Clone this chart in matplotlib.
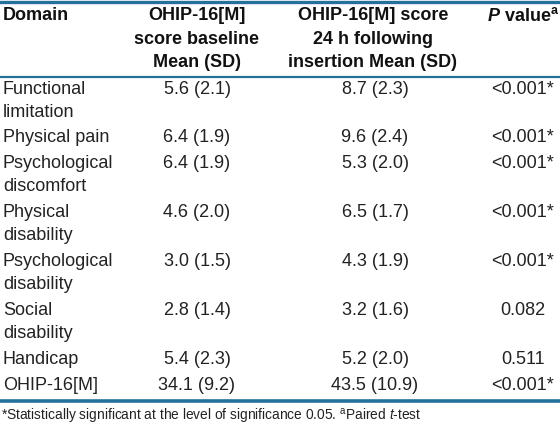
import matplotlib
matplotlib.use("Agg")
import matplotlib.pyplot as plt

plt.rcParams['font.family'] = ['Liberation Sans', 'DejaVu Sans']
plt.rcParams['mathtext.fontset'] = 'custom'
plt.rcParams['mathtext.rm'] = 'Liberation Sans'
plt.rcParams['mathtext.it'] = 'Liberation Sans:italic'
plt.rcParams['mathtext.bf'] = 'Liberation Sans:bold'
plt.rcParams['mathtext.bfit'] = 'Liberation Sans:italic:bold'

# table content
domains = ["Functional\nlimitation", "Physical pain", "Psychological\ndiscomfort",
           "Physical\ndisability", "Psychological\ndisability", "Social\ndisability",
           "Handicap", "OHIP-16[M]"]
baseline = ["5.6 (2.1)", "6.4 (1.9)", "6.4 (1.9)", "4.6 (2.0)",
            "3.0 (1.5)", "2.8 (1.4)", "5.4 (2.3)", "34.1 (9.2)"]
after_24h = ["8.7 (2.3)", "9.6 (2.4)", "5.3 (2.0)", "6.5 (1.7)",
             "4.3 (1.9)", "3.2 (1.6)", "5.2 (2.0)", "43.5 (10.9)"]
p_values = ["<0.001*", "<0.001*", "<0.001*", "<0.001*",
            "<0.001*", "0.082", "0.511", "<0.001*"]
headers = ["Domain", "OHIP-16[M]\nscore baseline\nMean (SD)",
           "OHIP-16[M] score\n24 h following\ninsertion Mean (SD)",
           r"$\mathbfit{P}$ value$^{\mathbf{a}}$"]
footnote = (r"*Statistically significant at the level of significance 0.05. "
            r"$^{\mathrm{a}}$Paired $\mathit{t}$-test")

BLUE = '#24709a'
TXT = '#222222'
FS = 13
LINE_H = 23.3

fig = plt.figure(figsize=(5.6, 4.26), dpi=100)
ax = fig.add_axes([0, 0, 1, 1])
ax.set_xlim(0, 560)
ax.set_ylim(426, 0)
ax.axis('off')

# rules
ax.axhline(1.5, color=BLUE, lw=2.4)
ax.axhline(76.5, color=BLUE, lw=1.6)
ax.axhline(401, color=BLUE, lw=2.6)

# header
hy = 16
for ln, s in enumerate(headers[0].split("\n")):
    ax.text(3, hy + ln * LINE_H, s, fontsize=FS, fontweight='bold',
            ha='left', va='center', color='#111111')
for ln, s in enumerate(headers[1].split("\n")):
    ax.text(197, hy + ln * LINE_H, s, fontsize=FS, fontweight='bold',
            ha='center', va='center', color='#111111')
for ln, s in enumerate(headers[2].split("\n")):
    ax.text(373, hy + ln * LINE_H, s, fontsize=FS, fontweight='bold',
            ha='center', va='center', color='#111111')
ax.text(487, hy, headers[3], fontsize=FS, fontweight='bold',
        ha='left', va='center', color='#111111')

# body
y = 89
for dom, b, a, p in zip(domains, baseline, after_24h, p_values):
    lines = dom.split("\n")
    for ln, s in enumerate(lines):
        ax.text(3, y + ln * LINE_H, s, fontsize=FS, ha='left', va='center', color=TXT)
    ax.text(197, y, b, fontsize=FS, ha='center', va='center', color=TXT)
    ax.text(375, y, a, fontsize=FS, ha='center', va='center', color=TXT)
    ax.text(523, y, p, fontsize=FS, ha='center', va='center', color=TXT)
    y += 25.5 if len(lines) == 1 else 49

ax.text(1, 416, footnote, fontsize=9.9, ha='left', va='center', color=TXT)

fig.savefig("out.png", dpi=100)
